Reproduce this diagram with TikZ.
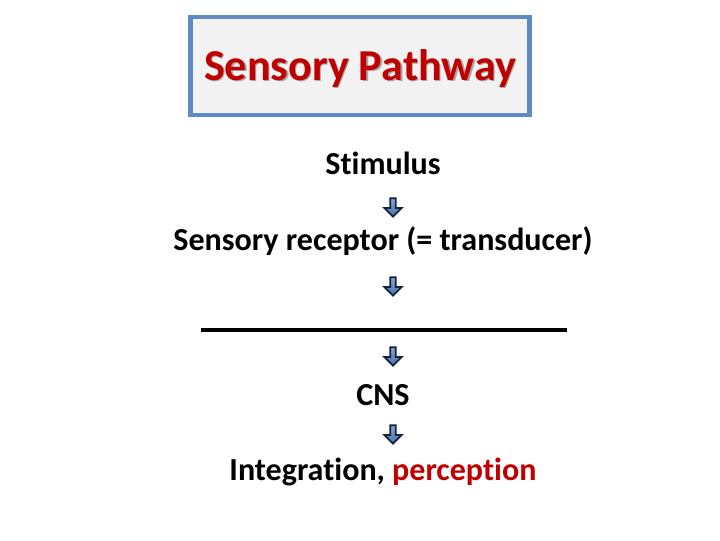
\documentclass[tikz,border=0pt]{standalone}
\usepackage{xcolor}
\usepackage{fontspec}
\setmainfont{Carlito}[Ligatures=NoCommon]
\usetikzlibrary{shapes.arrows}

\definecolor{titlered}{HTML}{C00000}
\definecolor{boxblue}{HTML}{5F8AC2}
\definecolor{arrowblue}{HTML}{4F81BD}
\definecolor{arrownavy}{HTML}{16213A}

\begin{document}
\begin{tikzpicture}[
				x=0.025cm,
				y=-0.025cm,
				titlebox/.style={
					draw=boxblue,
					line width=3.5pt,
					fill=black!5,
					minimum width=339*0.025cm,
					minimum height=98*0.025cm
				},
				stage/.style={
					font=\fontsize{22.8}{27}\selectfont\bfseries,
					inner sep=0pt
				},
				downarrow/.style={
					single arrow,
					shape border rotate=270,
					draw=arrownavy,
					line width=1.3pt,
					top color=arrowblue!70,
					bottom color=arrowblue!90!black,
					minimum width=0.43cm,
					minimum height=0.46cm,
					single arrow head extend=0.11cm,
					inner sep=0.8pt
				}
			]

				\useasboundingbox (0,0) rectangle (720,540);

				\node[titlebox] (T) at (360,66) {};
				\node[font=\fontsize{31.4}{35}\selectfont\bfseries, text=black!35]
					at (361.5,69.5) {Sensory Pathway};
				\node[font=\fontsize{31.4}{35}\selectfont\bfseries, text=titlered]
					(Title) at (360,68) {Sensory Pathway};

				\node[stage] (S) at (383,163) {Stimulus};
				\node[stage] (R) at (383,241) {Sensory receptor (= transducer)};
				\coordinate (L1) at (201,330);
				\coordinate (L2) at (567,330);
				\node[stage] (C) at (383,395) {CNS};
				\node[stage] (I) at (383,472)
					{Integration, \textcolor{titlered}{perception}};

				\node[downarrow] (A1) at (393,206) {};
				\node[downarrow] (A2) at (393,285) {};
				\node[downarrow] (A3) at (393,355) {};
				\node[downarrow] (A4) at (393,433) {};

				\draw[line width=2.2pt] (L1) -- (L2);

			\end{tikzpicture}
\end{document}
